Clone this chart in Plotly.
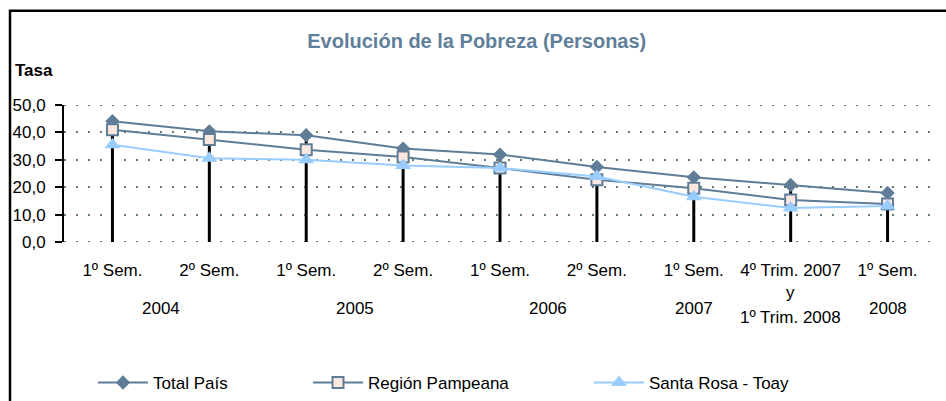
import plotly.graph_objects as go

periods = ["1º Sem. 2004", "2º Sem. 2004", "1º Sem. 2005", "2º Sem. 2005",
           "1º Sem. 2006", "2º Sem. 2006", "1º Sem. 2007",
           "4º Trim. 2007 y 1º Trim. 2008", "1º Sem. 2008"]
tick_labels = ["1º Sem.", "2º Sem.", "1º Sem.", "2º Sem.", "1º Sem.", "2º Sem.",
               "1º Sem.", "4º Trim. 2007", "1º Sem."]
year_labels = ["2004", "2005", "2006", "2007", "2008"]
total_pais = [44.1, 40.4, 39.0, 34.1, 31.9, 27.4, 23.6, 20.8, 17.9]
region_pampeana = [41.0, 37.4, 33.7, 31.0, 27.0, 22.7, 19.6, 15.3, 13.9]
santa_rosa = [35.5, 30.6, 30.0, 27.9, 27.0, 23.9, 16.5, 12.4, 13.1]
y_ticks = [0, 10, 20, 30, 40, 50]

FONT = "Liberation Sans, Arial, sans-serif"
SLATE = "#5f7d97"
LIGHT = "#99ccff"
GRID = "#5f7f6f"
GRID_DASH = "2px,10px"

x = list(range(len(periods)))

fig = go.Figure()

# drop lines (from highest value to axis)
dx, dy = [], []
for i in x:
    dx += [i, i, None]
    dy += [max(total_pais[i], region_pampeana[i], santa_rosa[i]), 0, None]
fig.add_trace(go.Scatter(x=dx, y=dy, mode="lines", line=dict(color="black", width=3),
                         showlegend=False, hoverinfo="skip"))

fig.add_trace(go.Scatter(x=x, y=total_pais, name="Total País", mode="lines+markers",
                         line=dict(color=SLATE, width=2),
                         marker=dict(symbol="diamond", size=11, color=SLATE),
                         legend="legend"))
fig.add_trace(go.Scatter(x=x, y=region_pampeana, name="Región Pampeana", mode="lines+markers",
                         line=dict(color=SLATE, width=2),
                         marker=dict(symbol="square", size=11, color="#fde8df",
                                     line=dict(color=SLATE, width=2)),
                         legend="legend2"))
fig.add_trace(go.Scatter(x=x, y=santa_rosa, name="Santa Rosa - Toay", mode="lines+markers",
                         line=dict(color=LIGHT, width=2),
                         marker=dict(symbol="triangle-up", size=14, color=LIGHT),
                         legend="legend3"))

annotations = []
year_pos = [0.5, 2.5, 4.5, 6, 8]
for xp, t in zip(year_pos, year_labels):
    annotations.append(dict(x=xp, y=0, xref="x", yref="y", text=t, showarrow=False,
                            yshift=-66, yanchor="middle",
                            font=dict(family=FONT, size=17, color="black")))
annotations.append(dict(x=7, y=0, xref="x", yref="y", text="y", showarrow=False,
                        yshift=-50, yanchor="middle",
                        font=dict(family=FONT, size=17, color="black")))
annotations.append(dict(x=7, y=0, xref="x", yref="y", text="1º Trim. 2008", showarrow=False,
                        yshift=-75, yanchor="middle",
                        font=dict(family=FONT, size=17, color="black")))
annotations.append(dict(x=0, y=1, xref="paper", yref="paper", text="<b>Tasa</b>",
                        showarrow=False, xanchor="left", yanchor="middle",
                        xshift=-51, yshift=35,
                        font=dict(family=FONT, size=17, color="black")))

legend_common = dict(orientation="h", xref="container", yref="container",
                     yanchor="middle", xanchor="left", y=0.045, itemwidth=50,
                     bgcolor="rgba(0,0,0,0)",
                     font=dict(family=FONT, size=17, color="black"))

shapes = [dict(type="rect", xref="paper", yref="paper",
               x0=(10 - 64) / 872, x1=(980 - 64) / 872,
               y0=(241.7 - 440) / 136.7, y1=(241.7 - 11) / 136.7,
               line=dict(color="black", width=2.5), fillcolor="rgba(0,0,0,0)",
               layer="below")]
# gridlines at the range edges (plotly omits them)
for yv in (y_ticks[0], y_ticks[-1]):
    shapes.append(dict(type="line", xref="paper", yref="y", x0=0, x1=1, y0=yv, y1=yv,
                       line=dict(color=GRID, width=2, dash=GRID_DASH), layer="below"))

fig.update_layout(
    width=946, height=401,
    margin=dict(l=64, r=10, t=105, b=159),
    paper_bgcolor="white", plot_bgcolor="white",
    separators=",.",
    title=dict(text="<b>Evolución de la Pobreza (Personas)</b>", x=0.504, xanchor="center",
               y=0.899, yanchor="middle",
               font=dict(family=FONT, size=20, color="#5f7f9a")),
    xaxis=dict(range=[-0.5, 8.5], tickvals=x, ticktext=tick_labels, showgrid=False,
               zeroline=False, showline=False, ticks="", ticklabelstandoff=16,
               tickfont=dict(family=FONT, size=17, color="black")),
    yaxis=dict(range=[0, 50], tickvals=y_ticks, tickformat=".1f", showline=True,
               linecolor="black", linewidth=2, ticks="outside", ticklen=7, tickwidth=2,
               tickcolor="black", showgrid=True, gridcolor=GRID, gridwidth=2,
               griddash=GRID_DASH, zeroline=False, ticklabelstandoff=6,
               tickfont=dict(family=FONT, size=17, color="black")),
    annotations=annotations,
    legend=dict(x=93 / 946, **legend_common),
    legend2=dict(x=308 / 946, **legend_common),
    legend3=dict(x=589 / 946, **legend_common),
    shapes=shapes,
)

fig.write_html("out.html", config={"displayModeBar": False},
               post_script="document.body.style.margin='0';document.body.style.overflow='hidden';")
